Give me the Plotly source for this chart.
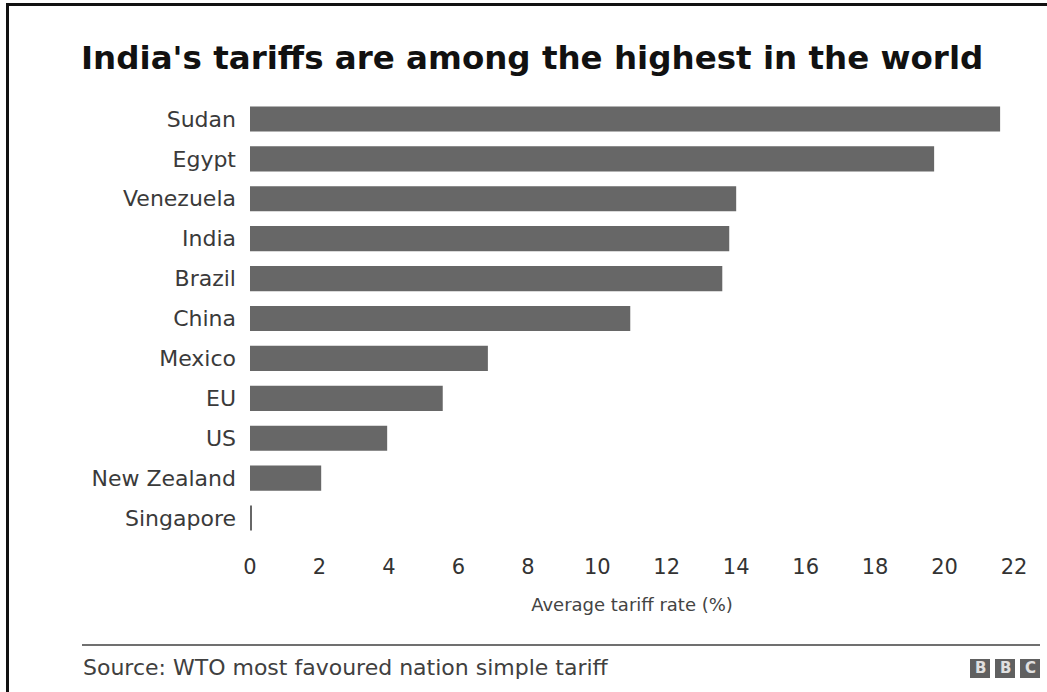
import plotly.graph_objects as go

# ---- data ----
countries = ["Sudan", "Egypt", "Venezuela", "India", "Brazil", "China",
             "Mexico", "EU", "US", "New Zealand", "Singapore"]
tariffs = [21.6, 19.7, 14.0, 13.8, 13.6, 10.95, 6.85, 5.55, 3.95, 2.05, 0.05]
x_ticks = [0, 2, 4, 6, 8, 10, 12, 14, 16, 18, 20, 22]

title_text = "India's tariffs are among the highest in the world"
x_title = "Average tariff rate (%)"
source_text = "Source: WTO most favoured nation simple tariff"

# ---- layout geometry ----
W, H = 1047, 692
ML, MR, MT, MB = 250, 33, 99, 154
PW = W - ML - MR
PH = H - MT - MB
FONT = "DejaVu Sans"


def px(x):
    return (x - ML) / PW


def py(y):
    return (H - MB - y) / PH


fig = go.Figure(go.Bar(
    x=tariffs, y=countries, orientation="h",
    marker=dict(color="#676767", line=dict(width=0)),
    hoverinfo="skip",
))

shapes = [
    # frame: top and left borders
    dict(type="line", xref="paper", yref="paper", x0=px(7.5), x1=px(W + 5),
         y0=py(4.5), y1=py(4.5), line=dict(color="#111111", width=3)),
    dict(type="line", xref="paper", yref="paper", x0=px(7.5), x1=px(7.5),
         y0=py(3), y1=py(H + 5), line=dict(color="#111111", width=3)),
    # rule above source
    dict(type="line", xref="paper", yref="paper", x0=px(82), x1=px(1040),
         y0=py(645), y1=py(645), line=dict(color="#707070", width=2)),
]

annotations = [
    dict(text=source_text, xref="paper", yref="paper", x=px(81), y=py(667),
         xanchor="left", yanchor="middle", showarrow=False,
         font=dict(family=FONT, size=22, color="#404040")),
]

# BBC blocks
for i, letter in enumerate(["B", "B", "C"]):
    x0 = 970 + i * 25
    shapes.append(dict(type="rect", xref="paper", yref="paper",
                       x0=px(x0), x1=px(x0 + 20), y0=py(678), y1=py(659),
                       fillcolor="#606060", line=dict(width=0)))
    annotations.append(dict(text="<b>%s</b>" % letter, xref="paper", yref="paper",
                            x=px(x0 + 10), y=py(668.5), xanchor="center",
                            yanchor="middle", showarrow=False,
                            font=dict(family=FONT, size=15, color="#e0e0e0")))

fig.update_layout(
    width=W, height=H,
    margin=dict(l=ML, r=MR, t=MT, b=MB, autoexpand=False),
    paper_bgcolor="white", plot_bgcolor="white",
    bargap=0.37,
    showlegend=False,
    title=dict(text="<b>%s</b>" % title_text, xref="container", yref="container",
               x=81 / W, xanchor="left", y=1 - 58 / H, yanchor="middle",
               font=dict(family=FONT, size=32.5, color="#111111")),
    xaxis=dict(range=[0, 22], tickvals=x_ticks, showgrid=False, zeroline=False,
               showline=False, ticks="", ticklabelstandoff=14,
               tickfont=dict(family=FONT, size=21, color="#333333"),
               title=dict(text=x_title, standoff=20,
                          font=dict(family=FONT, size=18, color="#444444")),
               fixedrange=True),
    yaxis=dict(categoryorder="array", categoryarray=countries,
               range=[len(countries) - 0.5, -0.5], showgrid=False,
               zeroline=False, showline=False, ticks="", ticklabelstandoff=13,
               tickfont=dict(family=FONT, size=22, color="#3a3a3a"),
               fixedrange=True),
    shapes=shapes,
    annotations=annotations,
)

fig.write_html("out.html")
